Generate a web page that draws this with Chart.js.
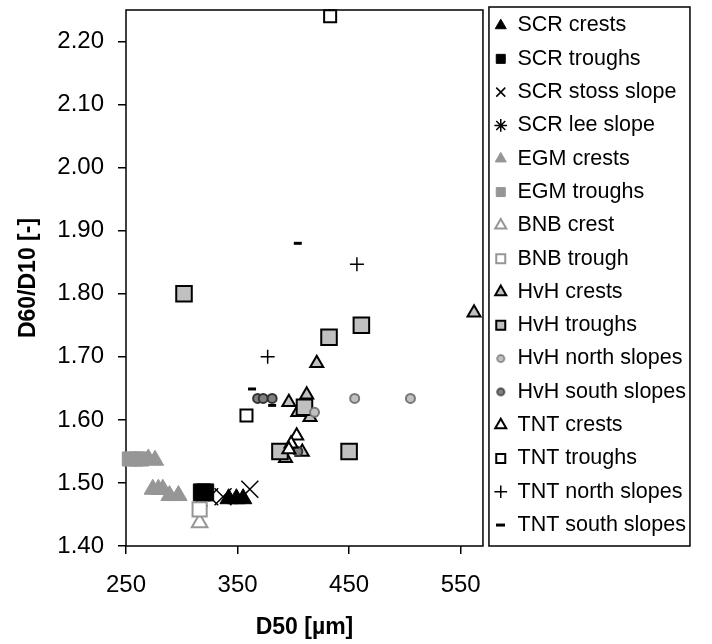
<!DOCTYPE html>
<html>
<head>
<meta charset="utf-8">
<script src="https://cdn.jsdelivr.net/npm/chart.js@4.4.1/dist/chart.umd.min.js"></script>
<style>
  html, body { margin: 0; padding: 0; background: #fff; }
  #wrap { width: 712px; height: 644px; }
</style>
</head>
<body>
<div id="wrap"><canvas id="sizeChart" width="712" height="644"></canvas></div>
<script>
// D50 [um] , D60/D10 [-] pairs
const scrCrests = [[342, 1.475], [349, 1.475], [355, 1.475]];
const scrTroughs = [[318, 1.485], [321, 1.485]];
const scrStoss = [[325, 1.478], [337, 1.478], [361, 1.49]];
const scrLee = [[317, 1.464]];
const egmCrests = [[270, 1.538], [276, 1.536], [274, 1.49], [279, 1.49], [283, 1.49], [289, 1.48], [297, 1.48]];
const egmTroughs = [[253, 1.538], [259, 1.538], [264, 1.538]];
const bnbCrest = [[316, 1.437]];
const bnbTrough = [[316, 1.458]];
const hvhCrests = [[562, 1.77], [421, 1.69], [412, 1.64], [396, 1.628], [404, 1.612], [415, 1.604], [408, 1.549], [393, 1.539]];
const hvhTroughs = [[302, 1.80], [432, 1.731], [461, 1.75], [410, 1.62], [388, 1.55], [450, 1.55]];
const hvhNorth = [[419, 1.612], [455, 1.634], [505, 1.634]];
const hvhSouth = [[368, 1.634], [373, 1.634], [381, 1.634], [404, 1.55]];
const tntCrests = [[403, 1.575], [398, 1.562], [396, 1.553]];
const tntTroughs = [[433, 2.24], [358, 1.607]];
const tntNorth = [[457, 1.847], [377, 1.70]];
const tntSouth = [[404, 1.88], [363, 1.649], [381, 1.623]];

const xTicks = [250, 350, 450, 550];
const yTicks = [1.4, 1.5, 1.6, 1.7, 1.8, 1.9, 2.0, 2.1, 2.2];

const FONT = "'Liberation Sans', Arial, sans-serif";

function pts(list) {
  return list.map((p) => ({ x: p[0], y: p[1] }));
}

function series(label, data, style, fill, stroke, radius, width) {
  return {
    label: label,
    data: pts(data),
    pointStyle: style,
    backgroundColor: fill,
    borderColor: stroke,
    pointRadius: radius,
    pointHoverRadius: radius,
    borderWidth: width,
    pointBorderWidth: width,
    showLine: false,
    clip: false,
  };
}

// small legend markers (the default ones come out too big)
function dotIcon(fill, stroke) {
  const c = document.createElement("canvas");
  c.width = 11;
  c.height = 11;
  const g = c.getContext("2d");
  g.beginPath();
  g.arc(5.5, 5.5, 3.6, 0, Math.PI * 2);
  g.fillStyle = fill;
  g.fill();
  g.lineWidth = 1.5;
  g.strokeStyle = stroke;
  g.stroke();
  return c;
}

function dashIcon() {
  const c = document.createElement("canvas");
  c.width = 9;
  c.height = 5;
  const g = c.getContext("2d");
  g.fillStyle = "#000";
  g.fillRect(0, 1, 9, 3);
  return c;
}

const datasets = [
  series("SCR crests", scrCrests, "triangle", "#000", "#000", 10, 1),
  series("SCR troughs", scrTroughs, "rect", "#000", "#000", 12, 1),
  series("SCR stoss slope", scrStoss, "crossRot", "#000", "#000", 12, 1.5),
  series("SCR lee slope", scrLee, "star", "#000", "#000", 7, 1.5),
  series("EGM crests", egmCrests, "triangle", "#969696", "#969696", 10, 1),
  series("EGM troughs", egmTroughs, "rect", "#969696", "#969696", 10, 1),
  series("BNB crest", bnbCrest, "triangle", "#fff", "#969696", 9, 2),
  series("BNB trough", bnbTrough, "rect", "#fff", "#969696", 10, 2),
  series("HvH crests", hvhCrests, "triangle", "#c0c0c0", "#000", 7.5, 2),
  series("HvH troughs", hvhTroughs, "rect", "#c0c0c0", "#000", 11, 2),
  series("HvH north slopes", hvhNorth, "circle", "#c0c0c0", "#777", 4.5, 2),
  series("HvH south slopes", hvhSouth, "circle", "#808080", "#333", 4.5, 2),
  series("TNT crests", tntCrests, "triangle", "#fff", "#000", 7.5, 2),
  series("TNT troughs", tntTroughs, "rect", "#fff", "#000", 8.5, 2),
  series("TNT north slopes", tntNorth, "cross", "#000", "#000", 7, 1.5),
  series("TNT south slopes", tntSouth, "line", "#000", "#000", 4, 3),
];
datasets[10].legendIcon = dotIcon("#c0c0c0", "#777");
datasets[11].legendIcon = dotIcon("#808080", "#333");
datasets[15].legendIcon = dashIcon();
// later series sit on top, like the original
datasets.forEach((d, i) => { d.order = datasets.length - i; });

const frames = {
  id: "frames",
  beforeDatasetsDraw(chart) {
    const { ctx, chartArea } = chart;
    ctx.save();
    ctx.strokeStyle = "#000";
    ctx.lineWidth = 1.5;
    ctx.strokeRect(chartArea.left, chartArea.top, chartArea.right - chartArea.left, chartArea.bottom - chartArea.top);
    ctx.restore();
  },
  afterDraw(chart) {
    const { ctx, chartArea, legend } = chart;
    ctx.save();
    ctx.strokeStyle = "#000";
    ctx.lineWidth = 1.5;
    ctx.strokeRect(legend.left + 6, chartArea.top - 3, 201, chartArea.bottom - chartArea.top + 3);
    ctx.restore();
  },
};

function noEdgePadding(scale) {
  scale.paddingTop = 0;
  scale.paddingBottom = 0;
  scale.paddingLeft = 0;
  scale.paddingRight = 0;
}

new Chart(document.getElementById("sizeChart"), {
  type: "scatter",
  data: { datasets: datasets },
  options: {
    responsive: false,
    animation: false,
    devicePixelRatio: 1,
    layout: { autoPadding: false, padding: { left: 0, top: 3, right: 16, bottom: 0 } },
    plugins: {
      tooltip: { enabled: false },
      // empty spacer above the plot only, so the legend can start higher
      title: {
        display: true,
        text: " ",
        position: "top",
        fullSize: false,
        font: { size: 1 },
        padding: { top: 5.8, bottom: 0 },
      },
      legend: {
        position: "right",
        align: "start",
        fullSize: true,
        maxWidth: 260,
        labels: {
          usePointStyle: true,
          boxWidth: 12,
          boxHeight: 9,
          padding: 11.8,
          color: "#000",
          font: { family: FONT, size: 21.5 },
          sort: (a, b) => a.datasetIndex - b.datasetIndex,
          generateLabels: (chart) => {
            const items = Chart.defaults.plugins.legend.labels.generateLabels(chart);
            items.forEach((it) => {
              const icon = chart.data.datasets[it.datasetIndex].legendIcon;
              if (icon) it.pointStyle = icon;
            });
            return items;
          },
        },
      },
    },
    scales: {
      x: {
        type: "linear",
        min: 250,
        max: 570,
        afterBuildTicks: (scale) => { scale.ticks = xTicks.map((v) => ({ value: v })); },
        afterFit: (scale) => { scale.height = 98; noEdgePadding(scale); },
        ticks: { color: "#000", padding: 17, font: { family: FONT, size: 24 } },
        grid: { drawOnChartArea: false, tickLength: 8, color: "#000", lineWidth: 1.5 },
        border: { display: false },
        title: {
          display: true,
          text: "D50 [µm]",
          color: "#000",
          font: { family: FONT, size: 23, weight: "bold" },
          padding: { top: 0, bottom: 3 },
        },
      },
      y: {
        type: "linear",
        min: 1.4,
        max: 2.25,
        afterBuildTicks: (scale) => { scale.ticks = yTicks.map((v) => ({ value: v })); },
        afterFit: (scale) => { scale.width = 126; noEdgePadding(scale); },
        ticks: {
          color: "#000",
          padding: 14,
          font: { family: FONT, size: 24 },
          callback: (v) => v.toFixed(2),
        },
        grid: { drawOnChartArea: false, tickLength: 8, color: "#000", lineWidth: 1.5 },
        border: { display: false },
        title: {
          display: true,
          text: "D60/D10 [-]",
          color: "#000",
          font: { family: FONT, size: 23, weight: "bold" },
          padding: { top: 15, bottom: 0 },
        },
      },
    },
  },
  plugins: [frames],
});
</script>
</body>
</html>
